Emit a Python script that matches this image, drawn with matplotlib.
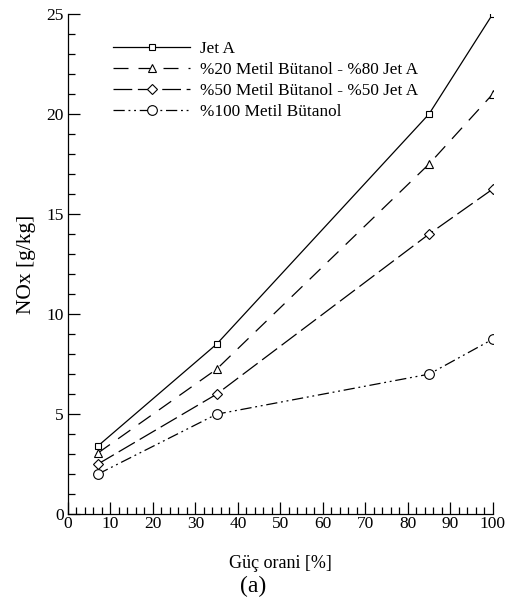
import matplotlib
matplotlib.use("Agg")
import matplotlib.pyplot as plt
from matplotlib.ticker import MultipleLocator

plt.rcParams['font.family'] = ['Liberation Serif', 'DejaVu Serif']

power = [7, 35, 85, 100]
jet_a = [3.4, 8.5, 20.0, 25.0]
mb20 = [3.05, 7.25, 17.5, 21.0]
mb50 = [2.5, 6.0, 14.0, 16.25]
mb100 = [2.0, 5.0, 7.0, 8.75]
labels = ["Jet A", "%20 Metil Bütanol - %80 Jet A",
          "%50 Metil Bütanol - %50 Jet A", "%100 Metil Bütanol"]

fig = plt.figure(figsize=(5.07, 6.05), dpi=100)
ax = fig.add_axes([0.134, 0.150, 0.838, 0.827])

lw = 0.9
ax.plot(power, jet_a, color='black', lw=lw, linestyle='-', marker='s',
        ms=5, mfc='white', mec='black', mew=0.8, label=labels[0])
ax.plot(power, mb20, color='black', lw=lw, linestyle=(0, (12, 8)), marker='^',
        ms=6, mfc='white', mec='black', mew=0.8, label=labels[1])
ax.plot(power, mb50, color='black', lw=lw, linestyle=(0, (15, 4.5)), marker='D',
        ms=5, mfc='white', mec='black', mew=0.8, label=labels[2])
ax.plot(power, mb100, color='black', lw=lw, linestyle=(0, (9, 3, 1.5, 3, 1.5, 3)),
        marker='o', ms=7, mfc='white', mec='black', mew=0.8, label=labels[3])

ax.set_xlim(0, 100)
ax.set_ylim(0, 25)
ax.xaxis.set_major_locator(MultipleLocator(10))
ax.xaxis.set_minor_locator(MultipleLocator(2))
ax.yaxis.set_major_locator(MultipleLocator(5))
ax.yaxis.set_minor_locator(MultipleLocator(1))
ax.tick_params(which='both', direction='in', labelsize=12.5, width=0.9)
ax.tick_params(which='major', length=8.5)
ax.tick_params(which='minor', length=5)
ax.tick_params(axis='x', pad=1)
ax.tick_params(axis='y', pad=3)
for s in ['top', 'right']:
    ax.spines[s].set_visible(False)
for s in ['left', 'bottom']:
    ax.spines[s].set_linewidth(0.9)

ax.set_xlabel("Güç orani [%]", fontsize=13)
ax.set_ylabel("NOx [g/kg]", fontsize=15.5)
ax.xaxis.set_label_coords(0.499, -0.082)
ax.yaxis.set_label_coords(-0.075, 0.5)

leg = ax.legend(loc='upper left', bbox_to_anchor=(0.106, 0.946), frameon=False,
                fontsize=12.4, handlelength=4.5, handletextpad=0.58,
                labelspacing=0.28, borderaxespad=0, borderpad=0)

fig.text(0.499, 0.031, "(a)", ha='center', va='center', fontsize=17)

fig.savefig("out.png", dpi=100)
